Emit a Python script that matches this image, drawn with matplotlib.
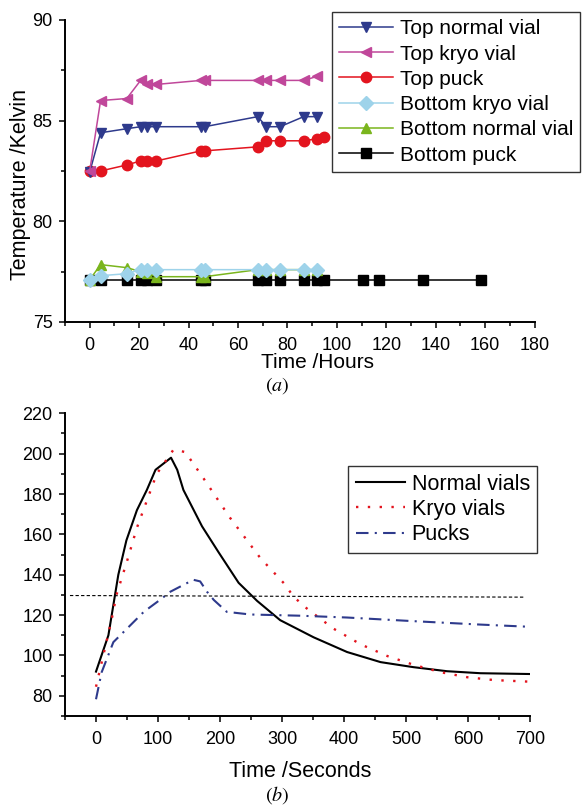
import numpy as np
import matplotlib
matplotlib.use('Agg')
import matplotlib.pyplot as plt
from matplotlib.ticker import MultipleLocator

plt.rcParams['font.family'] = ['Liberation Sans', 'DejaVu Sans']
plt.rcParams['mathtext.fontset'] = 'stix'

# (a) temperature vs time in hours
hours = [0, 4.4, 15, 20.6, 23, 27, 45, 46.5, 68, 71.5, 77, 86.6, 92]
hours_puck_top = [0, 4.4, 15, 20.6, 23, 27, 45, 46.5, 68, 71.5, 77, 86.6, 92, 95]
hours_puck_bottom = [0, 4.4, 15, 20.6, 23, 27, 45, 46.5, 68, 71.5, 77, 86.6, 92, 95,
                     110.5, 117, 135, 158.5]

top_normal = [82.45, 84.4, 84.6, 84.7, 84.7, 84.7, 84.7, 84.7, 85.2, 84.7, 84.7, 85.2, 85.2]
top_kryo = [82.5, 86.0, 86.1, 87.0, 86.8, 86.8, 87.0, 87.0, 87.0, 87.0, 87.0, 87.0, 87.2]
top_puck = [82.5, 82.5, 82.8, 83.0, 83.0, 83.0, 83.5, 83.5, 83.7, 84.0, 84.0, 84.0, 84.1, 84.2]
bottom_kryo = [77.1, 77.3, 77.4, 77.6, 77.6, 77.6, 77.6, 77.6, 77.6, 77.6, 77.6, 77.6, 77.6]
bottom_normal = [77.1, 77.85, 77.7, 77.5, 77.45, 77.25, 77.25, 77.25, 77.6, 77.6, 77.6, 77.6, 77.6]
bottom_puck = [77.1] * len(hours_puck_bottom)

# (b) temperature vs time in seconds
normal_t = [0, 20, 36, 49, 66, 82, 96, 121, 131, 141, 171, 198, 230, 260, 297, 351,
            405, 459, 512, 566, 620, 700]
normal_T = [92, 110, 140, 157, 172, 182, 192, 198, 192, 182, 164, 151, 136, 127, 117.5,
            109, 101.7, 96.7, 94.2, 92.2, 91.2, 90.8]
kryo_t = [0, 11, 25, 33, 50, 66, 82, 98, 125, 144, 174, 216, 265, 303, 319, 340, 383,
          427, 470, 513, 556, 599, 642, 700]
kryo_T = [84.5, 99, 117.5, 130, 146.7, 163.3, 176.7, 190, 202, 200.8, 187.5, 168.3,
          148.3, 135.8, 129, 123.3, 113.3, 105.5, 99.7, 95.3, 91.7, 89.2, 87.8, 87]
puck_t = [0, 9, 28, 50, 77, 103, 120, 157, 168, 179, 190, 211, 249, 329, 405, 512, 620, 700]
puck_T = [78.3, 91.6, 106.6, 113.3, 121.6, 127.5, 131.6, 137.5, 136.7, 131.6, 127.5,
          121.6, 120.3, 119.7, 118.8, 117, 115.3, 114.2]
thr_t = [-42, 690]
thr_T = [129.7, 128.9]

W, H = 583, 810
fig = plt.figure(figsize=(W / 100, H / 100), dpi=100)


def style_axes(ax):
    for s in ['top', 'right']:
        ax.spines[s].set_visible(False)
    for s in ['left', 'bottom']:
        ax.spines[s].set_linewidth(1.4)
    ax.tick_params(which='major', direction='out', length=4, width=1.1, labelsize=13)
    ax.tick_params(which='minor', direction='out', length=3, width=1.1)
    ax.tick_params(axis='x', which='major', pad=7)
    ax.tick_params(axis='y', which='major', pad=5)


# ---- (a)
ax1 = fig.add_axes([65 / W, 1 - 322 / H, (534.5 - 65) / W, (322 - 20) / H])
style_axes(ax1)
lw = 1.1
ms = 7.5
h_bp, = ax1.plot(hours_puck_bottom, bottom_puck, '-s', color='black', lw=lw, ms=7, zorder=2)
h_bn, = ax1.plot(hours, bottom_normal, '-^', color='#7AB51D', lw=lw, ms=ms, zorder=3)
h_bk, = ax1.plot(hours, bottom_kryo, '-D', color='#9ED3EA', lw=lw, ms=7, zorder=4)
h_tp, = ax1.plot(hours_puck_top, top_puck, '-o', color='#E3141E', lw=lw, ms=ms, zorder=3)
h_tn, = ax1.plot(hours, top_normal, '-v', color='#2E3A8C', lw=lw, ms=ms, zorder=4)
h_tk, = ax1.plot(hours, top_kryo, '-<', color='#C0479A', lw=lw, ms=ms, zorder=5)
ax1.set_xlim(-10, 180)
ax1.set_ylim(75, 90)
ax1.xaxis.set_major_locator(MultipleLocator(20))
ax1.xaxis.set_minor_locator(MultipleLocator(10))
ax1.yaxis.set_major_locator(MultipleLocator(5))
ax1.yaxis.set_minor_locator(MultipleLocator(2.5))
ax1.set_xlabel('Time /Hours', fontsize=15)
ax1.xaxis.set_label_coords(0.537, -0.103)
ax1.set_ylabel('Temperature /Kelvin', fontsize=15.5)
ax1.yaxis.set_label_coords(-0.072, 0.455)
leg1 = fig.legend([h_tn, h_tk, h_tp, h_bk, h_bn, h_bp],
                  ['Top normal vial', 'Top kryo vial', 'Top puck', 'Bottom kryo vial',
                   'Bottom normal vial', 'Bottom puck'],
                  loc='upper left', bbox_to_anchor=(332 / W, 1 - 12 / H),
                  fontsize=15, handlelength=2.6, labelspacing=0.3, borderpad=0.35,
                  handletextpad=0.3, borderaxespad=0, fancybox=False, framealpha=1,
                  edgecolor='#333333')
leg1.get_frame().set_linewidth(1.0)
fig.text(277 / W, 1 - 386 / H, r'$(\mathit{a})$', fontsize=14.5, ha='center', va='center')

# ---- (b)
ax2 = fig.add_axes([65 / W, 1 - 716 / H, (530 - 65) / W, (716 - 413.3) / H])
style_axes(ax2)
h_n, = ax2.plot(normal_t, normal_T, '-', color='black', lw=1.5)
h_k, = ax2.plot(kryo_t, kryo_T, color='#E3141E', lw=1.7, linestyle=(0, (1, 4)))
h_p, = ax2.plot(puck_t, puck_T, color='#2E3A8C', lw=1.5, linestyle=(0, (6, 3, 1, 3)))
ax2.plot(thr_t, thr_T, color='black', lw=0.8, linestyle=(0, (3, 2)))
ax2.set_xlim(-50, 700)
ax2.set_ylim(70, 220)
ax2.xaxis.set_major_locator(MultipleLocator(100))
ax2.xaxis.set_minor_locator(MultipleLocator(50))
ax2.yaxis.set_major_locator(MultipleLocator(20))
ax2.yaxis.set_minor_locator(MultipleLocator(10))
ax2.set_yticks(np.arange(80, 221, 20))
ax2.set_xlabel('Time /Seconds', fontsize=15.5)
ax2.xaxis.set_label_coords(0.505, -0.148)
leg2 = fig.legend([h_n, h_k, h_p], ['Normal vials', 'Kryo vials', 'Pucks'],
                  loc='upper left', bbox_to_anchor=(348 / W, 1 - 466 / H),
                  fontsize=15.5, handlelength=2.3, labelspacing=0.2, borderpad=0.35,
                  handletextpad=0.3, borderaxespad=0, fancybox=False, framealpha=1,
                  edgecolor='#333333')
leg2.get_frame().set_linewidth(1.0)
fig.text(277 / W, 1 - 795 / H, r'$(\mathit{b})$', fontsize=14.5, ha='center', va='center')

fig.savefig('out.png', dpi=100)
